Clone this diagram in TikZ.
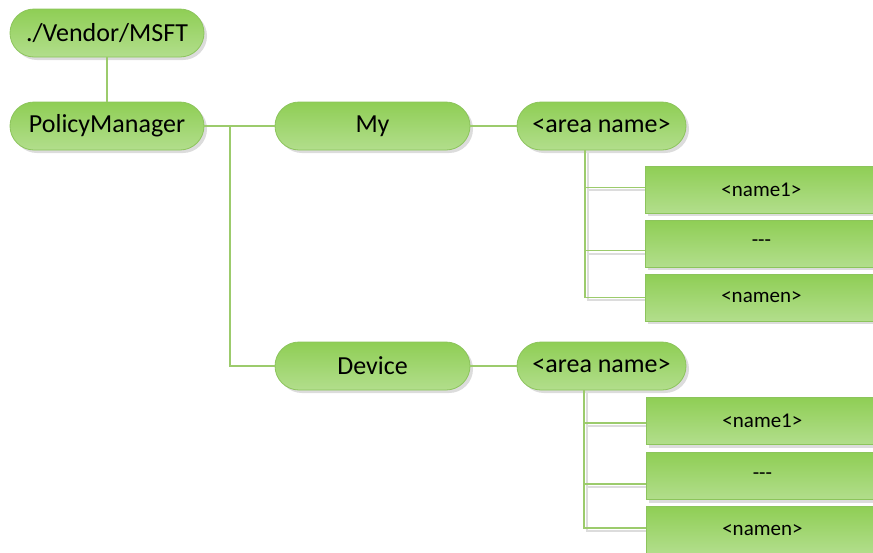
\documentclass[tikz,border=0pt]{standalone}
\usepackage{fontspec}
\setmainfont{Carlito}
\usetikzlibrary{shadows}
\definecolor{gtop}{HTML}{8FCE55}
\definecolor{gbot}{HTML}{B2DE8C}
\definecolor{gline}{HTML}{9CCB6C}
\definecolor{gborder}{HTML}{8CC45C}
\definecolor{shgray}{HTML}{DCDCDC}
\tikzset{
  pill/.style={draw=gborder, line width=0.8pt, rounded corners=24pt, top color=gtop, bottom color=gbot,
    minimum height=48pt, inner sep=0pt, font=\fontsize{26}{30}\selectfont,
    drop shadow={shadow xshift=3pt, shadow yshift=-3pt, fill=shgray, opacity=1}},
  leaf/.style={draw=gborder, line width=0.8pt, top color=gtop, bottom color=gbot,
    minimum height=47pt, minimum width=240pt, inner sep=0pt, font=\fontsize{21}{24}\selectfont,
    drop shadow={shadow xshift=3pt, shadow yshift=-3pt, fill=shgray, opacity=1}},
  conn/.style={draw=gline, line width=1.1pt},
  connsh/.style={draw=shgray, line width=1.4pt},
}
\begin{document}
\begin{tikzpicture}[x=1pt,y=-1pt]
\useasboundingbox (0,0) rectangle (873,552);
\clip (0,0) rectangle (873,552);
% connector shadows
\draw[connsh] (588,153) -- (588,300) -- (646,300);
\draw[connsh] (588,190) -- (646,190);
\draw[connsh] (588,254) -- (646,254);
\draw[connsh] (587,393) -- (587,531) -- (646,531);
\draw[connsh] (587,426) -- (646,426);
\draw[connsh] (587,487) -- (646,487);
% nodes
\node[pill, minimum width=194pt] (vendor) at (107,33) {./Vendor/MSFT};
\node[pill, minimum width=194pt] (pm) at (107,126) {PolicyManager};
\node[pill, minimum width=195pt] (my) at (372.5,126) {My};
\node[pill, minimum width=169pt] (area1) at (601.5,126) {<area name>};
\node[pill, minimum width=195pt] (dev) at (372.5,366) {Device};
\node[pill, minimum width=169pt] (area2) at (601.5,366) {<area name>};
\node[leaf, anchor=west] (a1) at (645,189.5) {\hspace*{-8pt}<name1>};
\node[leaf, anchor=west] (a2) at (645,243.5) {\hspace*{-8pt}{-}{-}{-}};
\node[leaf, anchor=west] (a3) at (645,297.5) {\hspace*{-8pt}<namen>};
\node[leaf, anchor=west] (b1) at (646,421) {\hspace*{-8pt}<name1>};
\node[leaf, anchor=west] (b2) at (646,476) {\hspace*{-8pt}{-}{-}{-}};
\node[leaf, anchor=west] (b3) at (646,530) {\hspace*{-8pt}<namen>};
% connectors
\coordinate (j) at (230,126);
\coordinate (c1) at (585,126);
\coordinate (c2) at (584,366);
\draw[conn] (vendor) -- (pm);
\draw[conn] (pm.east) -- (my.west);
\draw[conn] (j) |- (dev.west);
\draw[conn] (my.east) -- (area1.west);
\draw[conn] (dev.east) -- (area2.west);
\draw[conn] (area1.south -| c1) |- (a3.west);
\draw[conn] (area1.south -| c1) |- ([yshift=2pt]a1.west);
\draw[conn] (area1.south -| c1) |- ([yshift=-7pt]a2.west);
\draw[conn] (area2.south -| c2) |- ([yshift=2pt]b3.west);
\draw[conn] (area2.south -| c2) |- ([yshift=-2pt]b1.west);
\draw[conn] (area2.south -| c2) |- ([yshift=-8pt]b2.west);
\end{tikzpicture}
\end{document}
